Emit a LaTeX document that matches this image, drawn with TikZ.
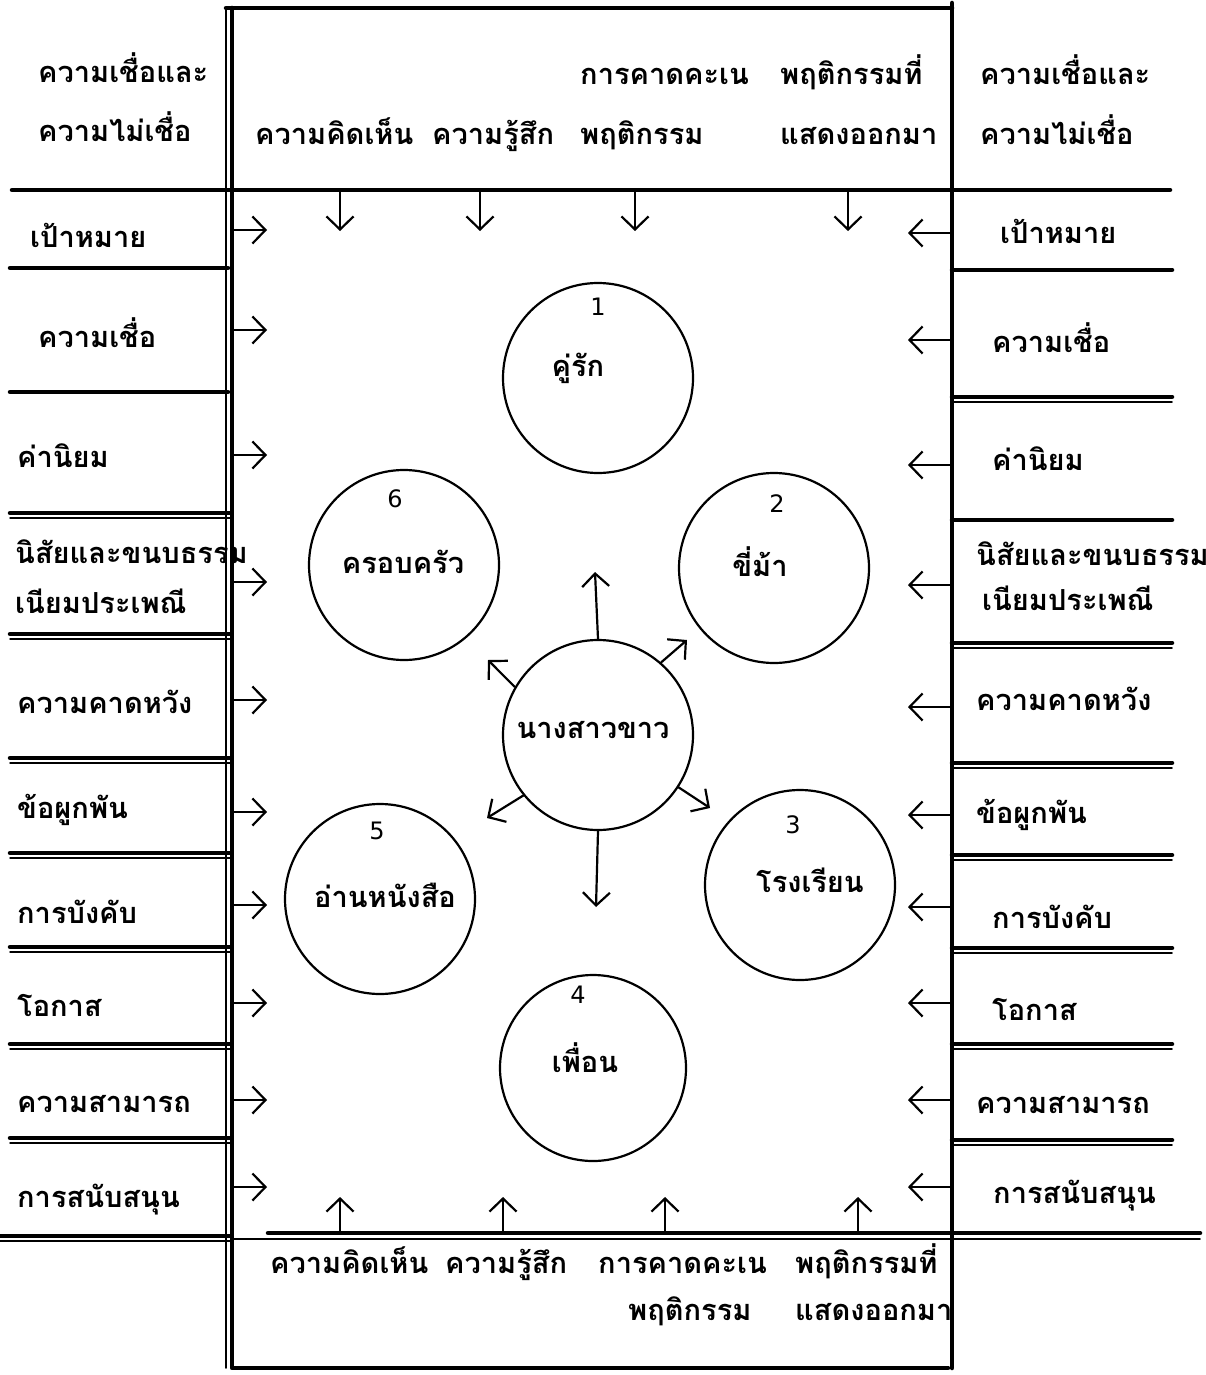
\documentclass[tikz,border=0pt]{standalone}
\usepackage{fontspec}
\newfontfamily\thaifont[Script=Thai]{Loma}
\newfontfamily\numfont{DejaVu Sans}
\usetikzlibrary{arrows.meta}

\begin{document}
\begin{tikzpicture}[x=1pt, y=-1pt, >={Straight Barb[length=13pt,width=27pt]}, line join=round, line cap=round]
	\tikzset{
		thai/.style={font=\thaifont\bfseries\fontsize{29}{34}\selectfont, inner sep=0pt},
		lab/.style={thai, anchor=base west},
		num/.style={font=\numfont\fontsize{24}{28}\selectfont, inner sep=0pt},
		bubble/.style={circle, draw, line width=2.2pt, minimum size=190pt, inner sep=0pt},
		rule/.style={line width=4.5pt},
		hair/.style={line width=1.5pt},
		arr/.style={->, line width=2.2pt}
	}
	\useasboundingbox (0,0) rectangle (1206,1375);
	% frame of the middle field
	\draw [hair] (226,8)--(226,1368);
	\draw [rule] (226,8)--(952,8) (232,8)--(232,1368)--(948,1368) (952,3)--(952,1368);
	\draw [rule] (12,190)--(1170,190);
	% separators
	\foreach \y in {268,392}{
		\draw [rule] (10,\y)--(228,\y);
	}
	\foreach \y in {270,520}{
		\draw [rule] (952,\y)--(1172,\y);
	}
	\foreach \y in {513,634,758,853,947,1044,1138}{
		\draw [rule] (10,\y)--(230,\y);
		\draw [hair] (10,\y+5)--(230,\y+5);
	}
	\foreach \y in {397,643,763,855,948,1044,1140}{
		\draw [rule] (952,\y)--(1172,\y);
		\draw [hair] (952,\y+5)--(1172,\y+5);
	}
	\draw [rule] (0,1236)--(230,1236) (268,1233)--(1200,1233);
	\draw [hair] (0,1241)--(230,1241) (232,1239)--(1200,1239);
	% headers
	\node [lab] (hl1) at (38,83) {ความเชื่อและ};
	\node [lab] (hl2) at (38,142) {ความไม่เชื่อ};
	\node [lab] (hr1) at (980,85) {ความเชื่อและ};
	\node [lab] (hr2) at (980,145) {ความไม่เชื่อ};
	\node [lab] (ht1) at (255,145) {ความคิดเห็น};
	\node [lab] (ht2) at (432,145) {ความรู้สึก};
	\node [lab] (ht3) at (580,85) {การคาดคะเน};
	\node [lab] (ht4) at (580,145) {พฤติกรรม};
	\node [lab] (ht5) at (780,85) {พฤติกรรมที่};
	\node [lab] (ht6) at (780,145) {แสดงออกมา};
	\node [lab] (hb1) at (270,1273) {ความคิดเห็น};
	\node [lab] (hb2) at (445,1273) {ความรู้สึก};
	\node [lab] (hb3) at (598,1273) {การคาดคะเน};
	\node [lab] (hb4) at (628,1320) {พฤติกรรม};
	\node [lab] (hb5) at (795,1273) {พฤติกรรมที่};
	\node [lab] (hb6) at (795,1320) {แสดงออกมา};
	% side lists
	\foreach \x/\y/\t [count=\i] in {30/247/เป้าหมาย, 38/347/ความเชื่อ, 17/467/ค่านิยม, 15/563/นิสัยและขนบธรรม, 15/613/เนียมประเพณี, 17/713/ความคาดหวัง, 17/818/ข้อผูกพัน, 17/923/การบังคับ, 17/1016/โอกาส, 17/1112/ความสามารถ, 17/1207/การสนับสนุน}{
		\node [lab] (l\i) at (\x,\y) {\t};
	}
	\foreach \x/\y/\t [count=\i] in {1000/243/เป้าหมาย, 992/352/ความเชื่อ, 992/470/ค่านิยม, 976/565/นิสัยและขนบธรรม, 982/610/เนียมประเพณี, 976/710/ความคาดหวัง, 976/823/ข้อผูกพัน, 992/928/การบังคับ, 992/1020/โอกาส, 976/1113/ความสามารถ, 993/1203/การสนับสนุน}{
		\node [lab] (r\i) at (\x,\y) {\t};
	}
	% arrows into the field
	\foreach \y [count=\i] in {230,330,455,582,700,812,905,1003,1100,1187}{
		\coordinate (la\i) at (233,\y);
		\coordinate (lb\i) at (267,\y);
		\draw [arr] (la\i)--(lb\i);
	}
	\foreach \y [count=\i] in {233,340,465,585,707,815,907,1003,1100,1187}{
		\coordinate (ra\i) at (951,\y);
		\coordinate (rb\i) at (908,\y);
		\draw [arr] (ra\i)--(rb\i);
	}
	\foreach \x [count=\i] in {340,480,635,848}{
		\coordinate (ta\i) at (\x,192);
		\coordinate (tb\i) at (\x,231);
		\draw [arr] (ta\i)--(tb\i);
	}
	\foreach \x [count=\i] in {340,503,665,858}{
		\coordinate (ba\i) at (\x,1231);
		\coordinate (bb\i) at (\x,1197);
		\draw [arr] (ba\i)--(bb\i);
	}
	% circles
	\node [bubble] (c0) at (598,735) {};
	\node [bubble] (c1) at (598,378) {};
	\node [bubble] (c2) at (774,568) {};
	\node [bubble] (c3) at (800,885) {};
	\node [bubble, minimum size=186pt] (c4) at (593,1068) {};
	\node [bubble] (c5) at (380,899) {};
	\node [bubble] (c6) at (404,565) {};
	\foreach \x/\y/\t [count=\i] in {598/307/1, 777/504/2, 793/825/3, 578/995/4, 377/831/5, 395/499/6}{
		\node [num] (n\i) at (\x,\y) {\t};
	}
	\node [thai] (k0) at (593,730) {นางสาวขาว};
	\node [thai] (k1) at (578,368) {คู่รัก};
	\node [thai] (k2) at (760,562) {ขี่ม้า};
	\node [thai] (k3) at (810,880) {โรงเรียน};
	\node [thai] (k4) at (585,1058) {เพื่อน};
	\node [thai] (k5) at (385,895) {อ่านหนังสือ};
	\node [thai] (k6) at (403,562) {ครอบครัว};
	% arrows out of the middle circle
	\foreach \a/\x/\y [count=\i] in {90/595/572, 49/687/640, 150/488/660, 219/487/818, 327/710/808, 270/596/907}{
		\coordinate (ct\i) at (\x,\y);
		\draw [arr] (c0.\a)--(ct\i);
	}
\end{tikzpicture}
\end{document}
